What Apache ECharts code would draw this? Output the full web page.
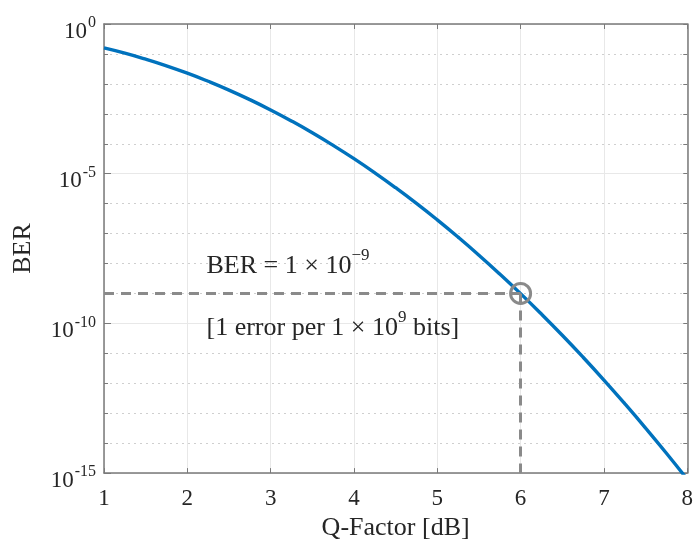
<!DOCTYPE html>
<html>
<head>
<meta charset="utf-8">
<script src="https://cdn.jsdelivr.net/npm/echarts@6/dist/echarts.min.js"></script>
<style>
html,body{margin:0;padding:0;background:#fff;}
#chart{width:696px;height:546px;}
</style>
</head>
<body>
<div id="chart"></div>
<script>
// Q-Factor values (x axis)
const qFactor = [1.0, 1.25, 1.5, 1.75, 2.0, 2.25, 2.5, 2.75, 3.0, 3.25, 3.5, 3.75, 4.0, 4.25, 4.5, 4.75, 5.0, 5.25, 5.5, 5.75, 6.0, 6.25, 6.5, 6.75, 7.0, 7.25, 7.5, 7.75, 8.0];
// BER values
const ber = [1.59e-1, 1.06e-1, 6.68e-2, 4.01e-2, 2.28e-2, 1.22e-2, 6.21e-3, 2.98e-3, 1.35e-3, 5.77e-4, 2.33e-4, 8.84e-5, 3.17e-5, 1.07e-5, 3.40e-6, 1.02e-6, 2.87e-7, 7.6e-8, 1.90e-8, 4.46e-9, 9.87e-10, 2.05e-10, 4.02e-11, 7.4e-12, 1.28e-12, 2.08e-13, 3.19e-14, 4.6e-15, 6.2e-16];
// Axis ticks
const xTicks = [1, 2, 3, 4, 5, 6, 7, 8];
const yMajorExponents = [0, -5, -10, -15];
// Highlighted operating point
const targetQ = 6;
const targetBER = 1e-9;

const FONT = '"Liberation Serif", "DejaVu Serif", serif';
const TXT = '#262626';
const AX = '#7a7a7a';

const chart = echarts.init(document.getElementById('chart'), null, {renderer: 'canvas'});

const supRich = {
  b: {fontFamily: FONT, fontSize: 23, color: TXT, verticalAlign: 'bottom', lineHeight: 28},
  s: {fontFamily: FONT, fontSize: 16, color: TXT, verticalAlign: 'top', lineHeight: 28, padding: [0, 0, 0, 1]}
};

function yLabel(v) {
  const e = Math.round(Math.log10(v));
  if (yMajorExponents.indexOf(e) < 0) return '';
  return '{b|10}{s|' + e + '}';
}

const annRich = {
  b: {fontFamily: FONT, fontSize: 26, color: TXT, verticalAlign: 'bottom', lineHeight: 32},
  s: {fontFamily: FONT, fontSize: 17, color: TXT, verticalAlign: 'top', lineHeight: 32}
};

const commonY = {
  type: 'log', logBase: 10, min: 1e-15, max: 1,
};

const option = {
  backgroundColor: '#ffffff',
  animation: false,
  grid: {left: 104, right: 7, top: 24, bottom: 70, containLabel: false},
  xAxis: [
    {
      type: 'value', min: xTicks[0], max: xTicks[xTicks.length - 1], interval: 1,
      position: 'bottom',
      axisLine: {show: true, lineStyle: {color: AX, width: 1.5}},
      axisTick: {show: true, inside: true, length: 5, lineStyle: {color: AX}},
      axisLabel: {fontFamily: FONT, fontSize: 23, color: TXT, margin: 14},
      splitLine: {show: true, lineStyle: {color: '#e8e8e8', width: 1}},
      name: 'Q-Factor [dB]', nameLocation: 'middle', nameGap: 33,
      nameTextStyle: {fontFamily: FONT, fontSize: 26, color: TXT}
    },
    {
      type: 'value', min: xTicks[0], max: xTicks[xTicks.length - 1], interval: 1,
      position: 'top',
      axisLine: {show: true, lineStyle: {color: AX, width: 1.5}},
      axisTick: {show: true, inside: true, length: 5, lineStyle: {color: AX}},
      axisLabel: {show: false},
      splitLine: {show: false}
    }
  ],
  yAxis: [
    Object.assign({}, commonY, {
      interval: 1, position: 'left',
      axisLine: {show: true, lineStyle: {color: AX, width: 1.5}},
      axisTick: {show: true, inside: true, length: 4, lineStyle: {color: AX}},
      axisLabel: {show: false},
      splitLine: {show: true, lineStyle: {color: '#cfcfcf', width: 1, type: [2, 4]}}
    }),
    Object.assign({}, commonY, {
      interval: 5, position: 'left',
      axisLine: {show: false},
      axisTick: {show: true, inside: true, length: 7, lineStyle: {color: AX}},
      axisLabel: {formatter: yLabel, rich: supRich, margin: 8, padding: [10, 0, 0, 0]},
      splitLine: {show: true, lineStyle: {color: '#e8e8e8', width: 1}},
      name: 'BER', nameLocation: 'middle', nameGap: 68, nameRotate: 90,
      nameTextStyle: {fontFamily: FONT, fontSize: 26, color: TXT}
    }),
    Object.assign({}, commonY, {
      interval: 1, position: 'right',
      axisLine: {show: true, lineStyle: {color: AX, width: 1.5}},
      axisTick: {show: true, inside: true, length: 4, lineStyle: {color: AX}},
      axisLabel: {show: false},
      splitLine: {show: false}
    })
  ],
  series: [
    {
      type: 'line',
      xAxisIndex: 0, yAxisIndex: 1,
      data: qFactor.map((q, i) => [q, ber[i]]),
      smooth: true,
      showSymbol: false,
      clip: true,
      lineStyle: {color: '#0072BD', width: 3.4},
      z: 3,
      markLine: {
        silent: true,
        symbol: ['none', 'none'],
        label: {show: false},
        lineStyle: {color: '#8a8a8a', width: 3, type: [10, 7]},
        data: [
          [{coord: [xTicks[0], targetBER]}, {coord: [targetQ, targetBER]}],
          [{coord: [targetQ, targetBER]}, {coord: [targetQ, 1e-15]}]
        ]
      },
      markPoint: {
        silent: true,
        data: [
          {
            coord: [targetQ, targetBER], symbol: 'circle', symbolSize: 20,
            itemStyle: {color: 'rgba(0,0,0,0)', borderColor: '#8a8a8a', borderWidth: 3},
            label: {show: false}
          },
          {
            coord: [2.23, 1e-8], symbol: 'circle', symbolSize: 0,
            label: {
              show: true, position: 'right', distance: 0,
              formatter: '{b|BER = 1 × 10}{s|−9}',
              rich: annRich
            }
          },
          {
            coord: [2.23, 9e-11], symbol: 'circle', symbolSize: 0,
            label: {
              show: true, position: 'right', distance: 0,
              formatter: '{b|[1 error per 1 × 10}{s|9}{b| bits]}',
              rich: annRich
            }
          }
        ]
      }
    }
  ]
};

chart.setOption(option);
</script>
</body>
</html>
